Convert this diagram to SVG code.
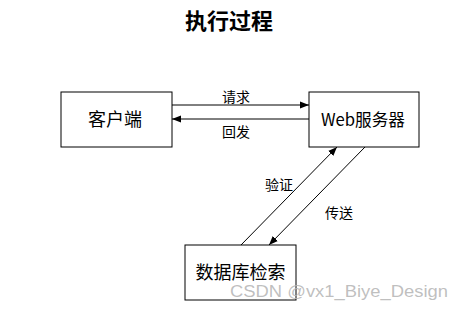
<svg xmlns="http://www.w3.org/2000/svg" width="463" height="311" viewBox="0 0 463 311">
<style>
.box{fill:#fff;stroke:#000;stroke-width:1}
.lbl{font-family:"Noto Sans CJK SC","Noto Sans",sans-serif;fill:#000;text-anchor:middle}
.edge{stroke:#000;stroke-width:1;fill:none;marker-end:url(#ah)}
</style>
<defs>
<marker id="ah" viewBox="0 0 10 10" refX="10" refY="5" markerWidth="9" markerHeight="9" markerUnits="userSpaceOnUse" orient="auto">
<path d="M0,1 L10,5 L0,9 Z" fill="#000"/>
</marker>
</defs>
<rect width="463" height="311" fill="#fff"/>
<text x="229" y="29" class="lbl" font-size="22" font-weight="bold">执行过程</text>
<g id="connectors">
<line class="edge" x1="172" y1="105" x2="309" y2="105"/>
<line class="edge" x1="309" y1="119" x2="172" y2="119"/>
<line class="edge" x1="241" y1="245" x2="337" y2="147"/>
<line class="edge" x1="365" y1="147" x2="269" y2="245"/>
<text x="236" y="102" class="lbl" font-size="14">请求</text>
<text x="236" y="137" class="lbl" font-size="14">回发</text>
<text x="279" y="190" class="lbl" font-size="14">验证</text>
<text x="339" y="218" class="lbl" font-size="14">传送</text>
</g>
<g id="client">
<rect class="box" x="61" y="92" width="111" height="55"/>
<text x="115" y="126" class="lbl" font-size="18">客户端</text>
</g>
<g id="server">
<rect class="box" x="309" y="92" width="110" height="55"/>
<text x="363" y="126" class="lbl" font-size="17" textLength="84" lengthAdjust="spacingAndGlyphs">Web服务器</text>
</g>
<g id="database">
<rect class="box" x="185" y="245" width="111" height="55"/>
<text x="240.5" y="279" class="lbl" font-size="18">数据库检索</text>
</g>
<text x="230" y="297" font-family="Liberation Sans,Arial,sans-serif" font-size="16" fill="#b4b4b4" fill-opacity="0.85" textLength="218" lengthAdjust="spacingAndGlyphs">CSDN @vx1_Biye_Design</text>
</svg>
